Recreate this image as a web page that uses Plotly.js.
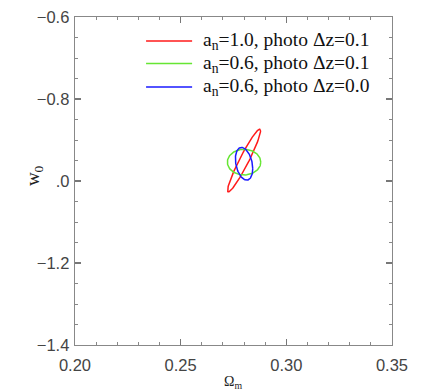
<!DOCTYPE html>
<html>
<head>
<meta charset="utf-8">
<script src="https://cdn.plot.ly/plotly-3.0.1.min.js"></script>
<style>
  html, body { margin: 0; padding: 0; background: #fff; }
  #plot { width: 436px; height: 392px; }
</style>
</head>
<body>
<div id="plot"></div>
<script>
// Forecast ellipses: centre, 1-sigma widths and correlation
var labels = ["a<sub>n</sub>=1.0, photo \u0394z=0.1",
              "a<sub>n</sub>=0.6, photo \u0394z=0.1",
              "a<sub>n</sub>=0.6, photo \u0394z=0.0"];
var colors = ["#ff1a1a", "#66e633", "#1a1aff"];
var centreOm = [0.2800, 0.2800, 0.2800];
var centreW = [-0.950, -0.954, -0.958];
var sigmaOm = [0.0078, 0.0079, 0.0041];
var sigmaW = [0.0764, 0.0313, 0.0400];
var rho = [0.95, 0.0, -0.3];

var yTickVals = [-0.6, -0.8, -1.0, -1.2, -1.4];
var yTickText = ["\u22120.6", "\u22120.8", ".0", "\u22121.2", "\u22121.4"];
var xTickVals = [0.20, 0.25, 0.30, 0.35];
var xTickText = ["0.20", "0.25", "0.30", "0.35"];

function ellipse(i) {
  var x = [], y = [];
  var phi = Math.acos(rho[i]);
  for (var k = 0; k <= 120; k++) {
    var t = 2 * Math.PI * k / 120;
    x.push(centreOm[i] + sigmaOm[i] * Math.cos(t));
    y.push(centreW[i] + sigmaW[i] * Math.cos(t - phi));
  }
  return {x: x, y: y};
}

// plot box in pixels, used to place the hand drawn legend
var L = 75, T = 16.7, W = 316.7, H = 328.3;
function px(x) { return (x - L) / W; }
function py(y) { return (T + H - y) / H; }

var traces = [];
var shapes = [];
var annotations = [];
var rowY = [40.7, 63.3, 86.7];
for (var i = 0; i < labels.length; i++) {
  var e = ellipse(i);
  traces.push({
    x: e.x, y: e.y, type: "scatter", mode: "lines",
    line: {color: colors[i], width: 1.5}, hoverinfo: "skip"
  });
  shapes.push({type: "line", xref: "paper", yref: "paper",
    x0: px(146), x1: px(192), y0: py(rowY[i]), y1: py(rowY[i]),
    line: {color: colors[i], width: 1.5}});
  annotations.push({xref: "paper", yref: "paper", x: px(201), y: py(rowY[i]),
    xanchor: "left", yanchor: "middle", showarrow: false, text: labels[i],
    font: {family: "Liberation Serif", size: 19.5, color: "#111"}});
}

// axis titles
annotations.push({xref: "paper", yref: "paper", x: px(233.3), y: py(383),
  xanchor: "center", yanchor: "middle", showarrow: false, text: "\u03a9<sub>m</sub>",
  font: {family: "Liberation Serif", size: 14, color: "#222"}});
annotations.push({xref: "paper", yref: "paper", x: px(34), y: py(175),
  xanchor: "center", yanchor: "middle", showarrow: false, textangle: -90,
  text: "w<sub>0</sub>", font: {family: "Liberation Serif", size: 19, color: "#222"}});

var axisCommon = {
  showgrid: false, zeroline: false, showline: true, linecolor: "#888", linewidth: 1.3,
  mirror: "allticks", ticks: "inside", ticklen: 6, tickwidth: 1.2, tickcolor: "#777",
  tickfont: {family: "Liberation Sans", size: 16.5, color: "#444"},
  minor: {ticks: "inside", ticklen: 3, tickwidth: 1, tickcolor: "#888"}
};

var layout = {
  width: 436, height: 392,
  margin: {l: L, r: 436 - L - W, t: T, b: 392 - T - H},
  paper_bgcolor: "#fff", plot_bgcolor: "#fff",
  showlegend: false,
  xaxis: Object.assign({}, axisCommon, {
    range: [0.20, 0.35], tickmode: "array", tickvals: xTickVals, ticktext: xTickText,
    minor: Object.assign({}, axisCommon.minor, {dtick: 0.01, tick0: 0.20}),
    ticklabelstandoff: 5
  }),
  yaxis: Object.assign({}, axisCommon, {
    range: [-1.4, -0.6], tickmode: "array", tickvals: yTickVals, ticktext: yTickText,
    minor: Object.assign({}, axisCommon.minor, {dtick: 0.05, tick0: -1.4}),
    ticklabelstandoff: 1
  }),
  shapes: shapes,
  annotations: annotations
};

Plotly.newPlot("plot", traces, layout, {displayModeBar: false, staticPlot: true});
</script>
</body>
</html>
